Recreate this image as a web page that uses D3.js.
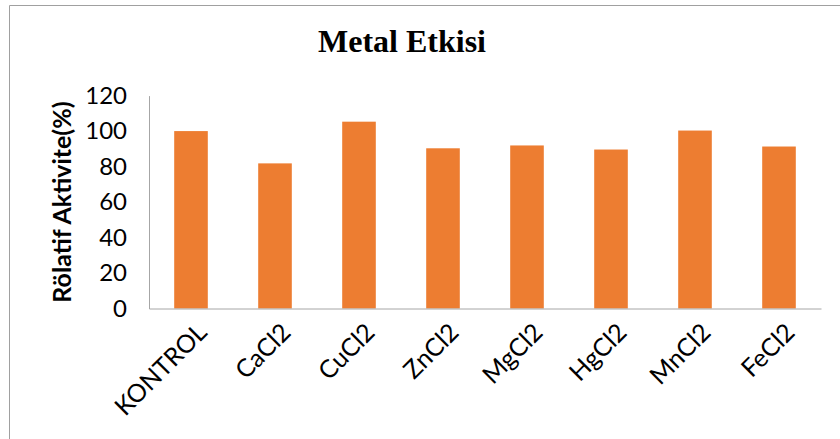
<!DOCTYPE html>
<html>
<head>
<meta charset="utf-8">
<script src="https://cdn.jsdelivr.net/npm/d3@7"></script>
<style>
  html, body { margin: 0; padding: 0; background: #fff; }
  svg { display: block; }
</style>
</head>
<body>
<svg id="chart" width="840" height="439"></svg>
<script>
const categories = ["KONTROL", "CaCl2", "CuCl2", "ZnCl2", "MgCl2", "HgCl2", "MnCl2", "FeCl2"];
const values = [100, 81.8, 105.3, 90.3, 91.9, 89.6, 100.3, 91.3];
const yTicks = [0, 20, 40, 60, 80, 100, 120];
const titleText = "Metal Etkisi";
const yTitle = "Rölatif Aktivite(%)";

const W = 840, H = 439;
const margin = { left: 149, right: 19, top: 95.6, bottom: 130.5 };
const svg = d3.select("#chart");

// outer chart border
svg.append("path")
  .attr("d", `M9.5,${H} V5.5 H${W}`)
  .attr("fill", "none").attr("stroke", "#a0a0a0").attr("stroke-width", 1);

const x = d3.scaleBand()
  .domain(categories)
  .range([margin.left, W - margin.right])
  .paddingInner(0.6)
  .paddingOuter(0.3);

const y = d3.scaleLinear()
  .domain([0, 120])
  .range([H - margin.bottom, margin.top]);

// title
svg.append("text")
  .attr("x", 402).attr("y", 52)
  .attr("text-anchor", "middle")
  .attr("font-family", "'Liberation Serif', 'Times New Roman', serif")
  .attr("font-weight", "bold")
  .attr("font-size", 32)
  .attr("fill", "#000")
  .text(titleText);

// bars
svg.append("g").selectAll("rect")
  .data(categories.map((c, i) => ({ c, v: values[i] })))
  .join("rect")
  .attr("x", d => x(d.c))
  .attr("width", x.bandwidth())
  .attr("y", d => y(d.v))
  .attr("height", d => y(0) - y(d.v))
  .attr("fill", "#ED7D31");

// y axis
const yAxis = svg.append("g")
  .attr("transform", `translate(${margin.left},0)`)
  .call(d3.axisLeft(y).tickValues(yTicks).tickSize(0).tickPadding(22));
yAxis.select(".domain").attr("stroke", "#a6a6a6").attr("stroke-width", 1);
yAxis.selectAll("text")
  .attr("font-family", "Lato, 'Open Sans', sans-serif")
  .attr("font-size", 24)
  .attr("fill", "#000");

// x axis
const xAxis = svg.append("g")
  .attr("transform", `translate(0,${y(0)})`)
  .call(d3.axisBottom(x).tickSize(0).tickFormat(() => ""));
xAxis.select(".domain").attr("stroke", "#a6a6a6").attr("stroke-width", 1);

// rotated x labels
svg.append("g").selectAll("text")
  .data(categories)
  .join("text")
  .attr("transform", d => `translate(${x(d) + x.bandwidth() / 2 + 5},${y(0) + 13}) rotate(-45)`)
  .attr("text-anchor", "end")
  .attr("dy", "0.7em")
  .attr("font-family", "Lato, 'Open Sans', sans-serif")
  .attr("font-size", 25)
  .attr("fill", "#000")
  .text(d => d);

// y title
svg.append("text")
  .attr("transform", `translate(71,${(y(0) + y(120)) / 2}) rotate(-90)`)
  .attr("text-anchor", "middle")
  .attr("font-family", "Lato, 'Open Sans', sans-serif")
  .attr("font-weight", "bold")
  .attr("font-size", 25)
  .attr("fill", "#000")
  .text(yTitle);
</script>
</body>
</html>
